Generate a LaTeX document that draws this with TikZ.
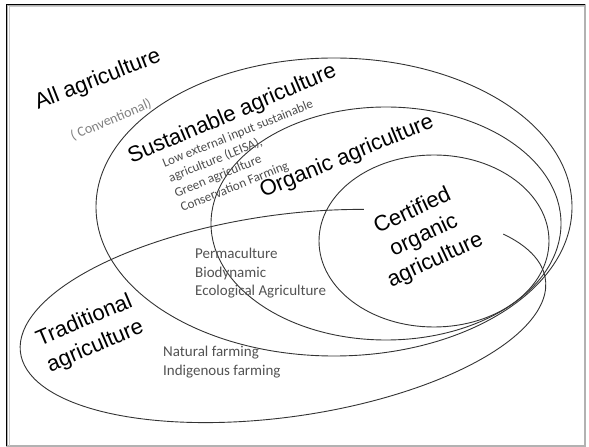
\documentclass[tikz,border=0pt]{standalone}
\usepackage{fontspec}
\newfontfamily\arialfont{Liberation Sans}
\newfontfamily\califont{Carlito}
\usetikzlibrary{calc}
\tikzset{
  ring/.style={draw=black!80,line width=0.9pt},
  biglabel/.style={font=\arialfont\fontsize{22}{28}\selectfont,inner sep=0pt,align=center},
  smalllabel/.style={font=\califont\fontsize{15}{18.6}\selectfont,text=black!68,inner sep=0pt,align=left,anchor=north west},
  tinylabel/.style={font=\califont\fontsize{13}{16}\selectfont,text=black!70,inner sep=0pt,align=left,anchor=north west}
}

\begin{document}
\begin{tikzpicture}[x=1pt,y=1pt]
      \useasboundingbox (0,0) rectangle (589,447);
      \draw[gray!60,line width=1.6pt] (7,1) rectangle (585,442);
      \draw[black,line width=1.3pt] (6.5,1) -- (6.5,442.5) -- (585,442.5);
      \draw[gray!40,line width=0.6pt] (8.8,1) -- (8.8,440.6) -- (584,440.6);

      \draw[ring] (334,240) ellipse (238 and 149);
      \draw[ring] (386,223.5) ellipse (175 and 116.5);
      \draw[ring] (434,206) ellipse (115 and 86);
      \begin{scope}[shift={(283,131)},rotate=8]
        \draw[ring] (69:265 and 101) arc[start angle=69,end angle=390,x radius=265,y radius=101];
      \end{scope}

      \node[biglabel,rotate=21.5] (all) at (98,367) {All agriculture};
      \node[biglabel,rotate=23,font=\califont\fontsize{14}{16}\selectfont,text=black!50] (conv) at (111,327) {( Conventional)};
      \node[biglabel,rotate=23] (sust) at (232.5,332.5) {Sustainable agriculture};
      \node[tinylabel,rotate=22] (lowinput) at (161,288) {Low external input sustainable\\agriculture (LEISA),\\Green agriculture\\Conservation Farming};
      \node[biglabel,rotate=22.5] (organic) at (347,290) {Organic agriculture};
      \node[biglabel,rotate=25,font=\arialfont\fontsize{22}{27}\selectfont] (certified) at (424,211) {Certified\\organic\\agriculture};
      \node[smalllabel] (perma) at (195,199) {Permaculture\\Biodynamic\\Ecological Agriculture};
      \node[biglabel,rotate=23] (trad) at (90,113) {Traditional\\agriculture};
      \node[smalllabel] (natural) at (163,101) {Natural farming\\Indigenous farming};
    \end{tikzpicture}
\end{document}
